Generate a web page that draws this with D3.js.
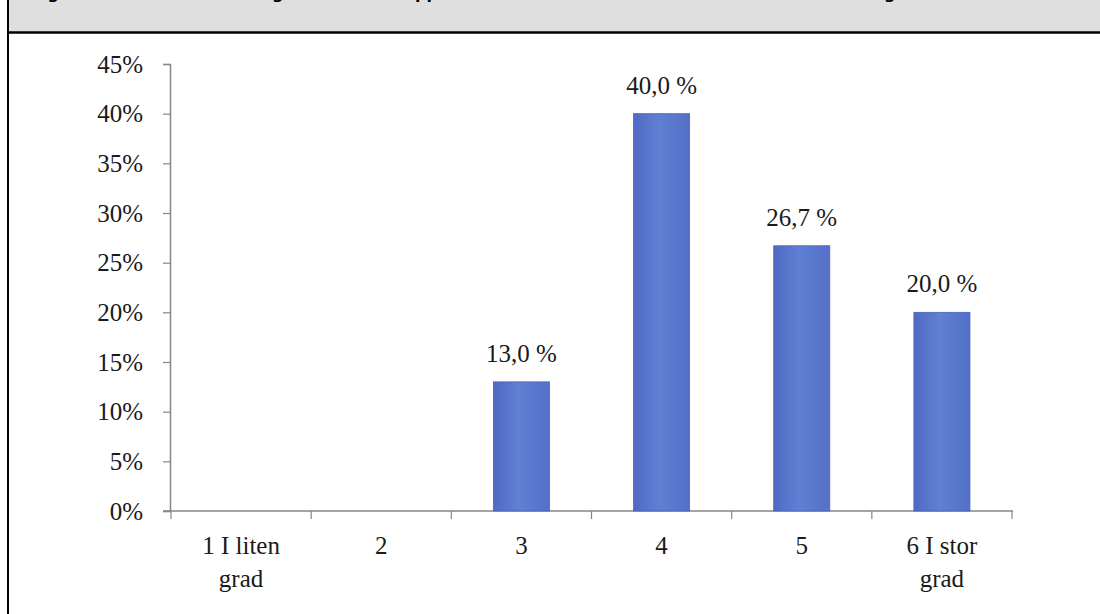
<script src="https://d3js.org/d3.v7.min.js"></script>

<style>
  body { margin: 0; background: #fff; }
  svg { display: block; }
</style>

<body>
<div id="vis"></div>

<script>
  // Chart values
  const categories = ['1', '2', '3', '4', '5', '6']
  const categoryLabels = [['1 I liten', 'grad'], ['2'], ['3'], ['4'], ['5'], ['6 I stor', 'grad']]
  const values = [null, null, 13.0, 40.0, 26.7, 20.0]
  const valueLabels = ['', '', '13,0 %', '40,0 %', '26,7 %', '20,0 %']
  const yTicks = [0, 5, 10, 15, 20, 25, 30, 35, 40, 45]
  // title is cut off at the top edge, only descenders show
  const titleParts = ['Figur 9: I hvilken', 'grad har du', 'opplevd at kursene har vært relevante i stor', 'grad?']
  const titleX = [31, 272, 404, 884]

  const width = 1100
  const height = 614
  const serif = '"Liberation Serif", "DejaVu Serif", serif'

  let svg = d3.select('#vis').append('svg')
    .attr('width', width)
    .attr('height', height)

  // gradient for the bars
  let grad = svg.append('defs').append('linearGradient')
    .attr('id', 'barGrad')
    .attr('x1', 0).attr('x2', 1).attr('y1', 0).attr('y2', 0)
  grad.append('stop').attr('offset', '0%').attr('stop-color', '#5069c3')
  grad.append('stop').attr('offset', '45%').attr('stop-color', '#5f80d3')
  grad.append('stop').attr('offset', '100%').attr('stop-color', '#5470c8')

  // Header band
  svg.append('rect')
    .attr('x', 8).attr('y', 0)
    .attr('width', width - 8).attr('height', 32)
    .attr('fill', '#dfdfdf')

  svg.append('text')
    .attr('y', -1)
    .style('font-family', '"DejaVu Sans", Verdana, sans-serif')
    .style('font-weight', 'bold')
    .style('font-size', '16px')
    .attr('fill', '#000')
    .selectAll('tspan')
    .data(titleParts)
    .enter()
    .append('tspan')
    .attr('x', (d, i) => titleX[i])
    .text(d => d)

  svg.append('line')
    .attr('x1', 8).attr('x2', width)
    .attr('y1', 32.5).attr('y2', 32.5)
    .style('stroke', '#000')
    .style('stroke-width', 2.5)

  svg.append('line')
    .attr('x1', 8).attr('x2', 8)
    .attr('y1', 0).attr('y2', height)
    .style('stroke', '#000')
    .style('stroke-width', 2)

  // Scales
  let x = d3.scaleBand()
    .domain(categories)
    .range([171, 1012])
    .padding(0)

  let y = d3.scaleLinear()
    .domain([0, 45])
    .range([511, 64])

  // y axis
  let yAxis = svg.append('g')
    .attr('transform', 'translate(170,0)')
    .call(d3.axisLeft(y).tickValues(yTicks).tickSize(7).tickPadding(20).tickFormat(d => d + '%'))

  yAxis.select('.domain').attr('stroke', '#868686').attr('stroke-width', 1.5)
  yAxis.selectAll('.tick line').attr('stroke', '#868686').attr('stroke-width', 1.2)
  yAxis.selectAll('.tick text')
    .style('font-family', serif)
    .style('font-size', '25px')
    .attr('fill', '#1a1a1a')

  // x axis line and boundary ticks
  svg.append('line')
    .attr('x1', 163).attr('x2', x.range()[1] + 1)
    .attr('y1', y(0)).attr('y2', y(0))
    .style('stroke', '#868686')
    .style('stroke-width', 1.5)

  let boundaries = categories.map(c => x(c)).concat([x.range()[1]])

  svg.selectAll('.xtick')
    .data(boundaries)
    .enter()
    .append('line')
    .attr('class', 'xtick')
    .attr('x1', d => d).attr('x2', d => d)
    .attr('y1', y(0)).attr('y2', y(0) + 8)
    .style('stroke', '#868686')
    .style('stroke-width', 1.2)

  // category labels (two lines where needed)
  let xLabels = svg.selectAll('.xlabel')
    .data(categories)
    .enter()
    .append('text')
    .attr('class', 'xlabel')
    .attr('text-anchor', 'middle')
    .style('font-family', serif)
    .style('font-size', '25px')
    .attr('fill', '#1a1a1a')

  xLabels.each(function (d, i) {
    d3.select(this).selectAll('tspan')
      .data(categoryLabels[i])
      .enter()
      .append('tspan')
      .attr('x', x(d) + x.bandwidth() / 2)
      .attr('y', (t, j) => 554 + j * 33)
      .text(t => t)
  })

  // Bars
  let barData = categories.map((c, i) => ({key: c, value: values[i], label: valueLabels[i]}))
    .filter(d => d.value !== null)

  svg.selectAll('.bar')
    .data(barData)
    .enter()
    .append('rect')
    .attr('class', 'bar')
    .attr('x', d => x(d.key) + x.bandwidth() * 0.3)
    .attr('width', x.bandwidth() * 0.4)
    .attr('y', d => y(d.value))
    .attr('height', d => y(0) - y(d.value))
    .attr('fill', 'url(#barGrad)')
    .style('stroke', '#4a62bd')
    .style('stroke-width', 0.8)

  svg.selectAll('.vlabel')
    .data(barData)
    .enter()
    .append('text')
    .attr('class', 'vlabel')
    .attr('x', d => x(d.key) + x.bandwidth() / 2)
    .attr('y', d => y(d.value) - 20)
    .attr('text-anchor', 'middle')
    .text(d => d.label)
    .style('font-family', serif)
    .style('font-size', '25px')
    .attr('fill', '#1a1a1a')
</script>
</body>
